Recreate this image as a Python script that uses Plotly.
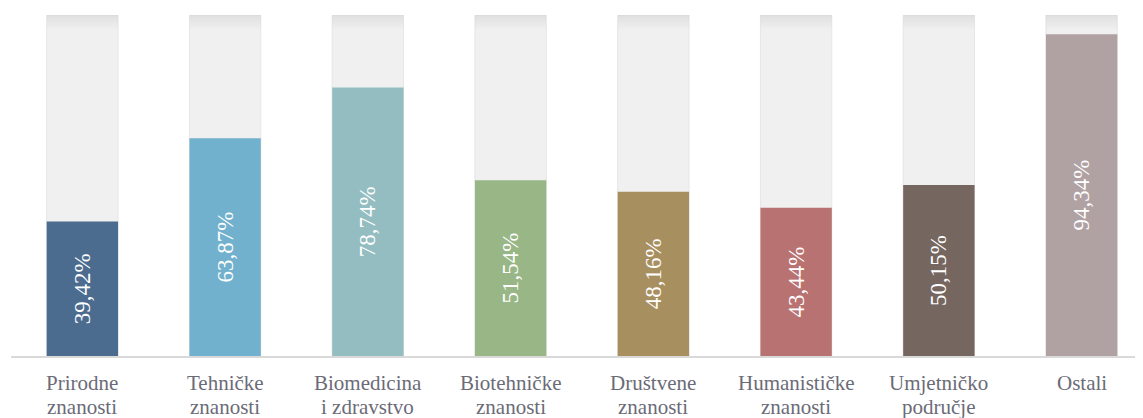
import plotly.graph_objects as go

categories = ["Prirodne znanosti", "Tehničke znanosti", "Biomedicina i zdravstvo",
              "Biotehničke znanosti", "Društvene znanosti", "Humanističke znanosti",
              "Umjetničko područje", "Ostali"]
label_line1 = ["Prirodne", "Tehničke", "Biomedicina", "Biotehničke", "Društvene",
               "Humanističke", "Umjetničko", "Ostali"]
label_line2 = ["znanosti", "znanosti", "i zdravstvo", "znanosti", "znanosti",
               "znanosti", "područje", ""]
values = [39.42, 63.87, 78.74, 51.54, 48.16, 43.44, 50.15, 94.34]
totals = [100] * len(categories)
colors = ["#4b6b8f", "#72b1cd", "#93bdc1", "#98b686", "#a88f5f", "#b97272", "#766660", "#b0a1a3"]
labels = [f"{v:.2f}%".replace(".", ",") for v in values]

SERIF = "Liberation Serif, Times New Roman, serif"
LABEL_COLOR = "#6b6b78"

fig = go.Figure()
fig.add_trace(go.Bar(
    x=categories, y=totals, width=0.5,
    marker=dict(color="#f0f0f0", line=dict(color="#e6e6e6", width=1)),
    hoverinfo="skip", showlegend=False,
))
# soft top shading of the background columns (layered translucent bands)
for depth in [4.0, 3.2, 2.4, 1.6, 0.8]:
    fig.add_trace(go.Bar(
        x=categories, y=[depth] * len(totals), base=[t - depth for t in totals], width=0.5,
        marker=dict(color="rgba(0,0,0,0.013)", line=dict(width=0)),
        hoverinfo="skip", showlegend=False,
    ))
fig.add_trace(go.Bar(
    x=categories, y=values, width=0.5,
    marker=dict(color=colors, line=dict(width=0)),
    text=labels, textposition="inside", textangle=-90, insidetextanchor="middle",
    textfont=dict(family=SERIF, size=23, color="white"),
    showlegend=False,
))

for cat, l1, l2 in zip(categories, label_line1, label_line2):
    fig.add_annotation(x=cat, xref="x", y=0, yref="paper", text=l1, showarrow=False,
                       yanchor="middle", yshift=-27,
                       font=dict(family=SERIF, size=21, color=LABEL_COLOR))
    if l2:
        fig.add_annotation(x=cat, xref="x", y=0, yref="paper", text=l2, showarrow=False,
                           yanchor="middle", yshift=-51,
                           font=dict(family=SERIF, size=21, color=LABEL_COLOR))

fig.update_layout(
    barmode="overlay",
    width=1135, height=410,
    margin=dict(l=3, r=0, t=7, b=62),
    paper_bgcolor="white", plot_bgcolor="white",
    uniformtext=dict(minsize=23, mode="show"),
)
fig.update_xaxes(
    range=[-0.5, 7.43],
    showline=True, linecolor="#d9d9d9", linewidth=1.5,
    showticklabels=False, showgrid=False, ticks="",
)
fig.update_yaxes(range=[0, 100], visible=False, showgrid=False)
fig.write_html("out.html")
